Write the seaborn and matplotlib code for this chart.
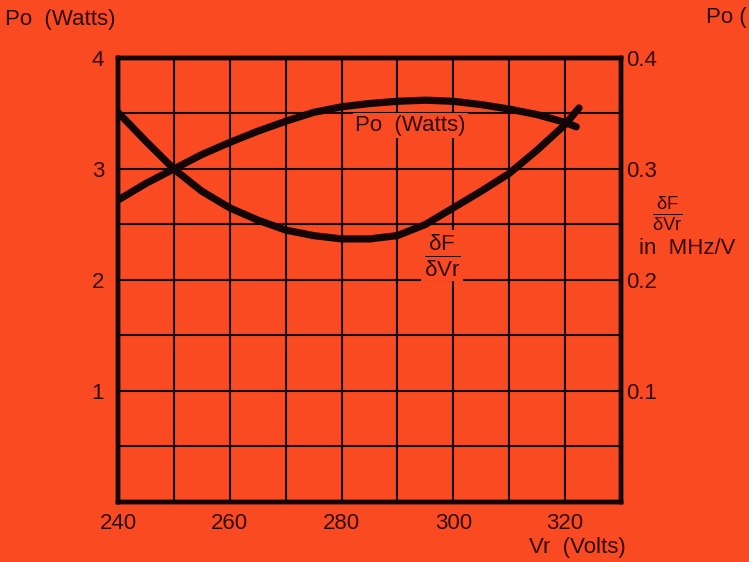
import numpy as np
import pandas as pd
import matplotlib
matplotlib.use("Agg")
import matplotlib.pyplot as plt
import seaborn as sns

# values
vr_po = [240, 245, 250, 255, 260, 265, 270, 275, 280, 285, 290, 295, 300, 305, 310, 315, 320, 322]
po_watts = [2.72, 2.87, 3.00, 3.13, 3.24, 3.34, 3.43, 3.51, 3.56, 3.59, 3.61, 3.62, 3.61, 3.58, 3.54, 3.49, 3.42, 3.38]

vr_df = [240, 245, 250, 255, 260, 265, 270, 275, 280, 285, 290, 295, 300, 305, 310, 315, 320, 322.5]
df_dvr = [0.351, 0.325, 0.300, 0.280, 0.265, 0.254, 0.245, 0.240, 0.237, 0.237, 0.240, 0.250, 0.265, 0.280, 0.296, 0.317, 0.340, 0.355]

x_ticks = [240, 260, 280, 300, 320]
left_ticks = [1, 2, 3, 4]
right_ticks = [0.1, 0.2, 0.3, 0.4]

bg = "#FA4A22"
ink = "#140606"
txt = "#2E0A0A"

sns.set_theme(style="white")
plt.rcParams["font.family"] = ["Liberation Sans", "DejaVu Sans"]
plt.rcParams["mathtext.fontset"] = "custom"
plt.rcParams["mathtext.rm"] = "Liberation Sans"
plt.rcParams["mathtext.it"] = "Liberation Sans"

fs = 16

fig = plt.figure(figsize=(7.49, 5.62), dpi=100, facecolor=bg)
ax = fig.add_axes([0.1575, 0.1068, 0.6715, 0.79])
ax.set_facecolor(bg)

po = pd.DataFrame({"vr": vr_po, "po": po_watts})
dfd = pd.DataFrame({"vr": vr_df, "df": df_dvr})

sns.lineplot(data=po, x="vr", y="po", ax=ax, color=ink, linewidth=5.2, solid_capstyle="round")

ax.set_xlim(240, 330)
ax.set_ylim(0, 4)
ax.set_xticks(np.arange(240, 331, 10), minor=True)
ax.set_yticks(np.arange(0, 4.01, 0.5), minor=True)
ax.set_xticks(x_ticks)
ax.set_yticks(left_ticks)
ax.set_xticklabels([str(t) for t in x_ticks])
ax.set_yticklabels([str(t) for t in left_ticks])
ax.grid(which="both", color=ink, linewidth=1.5)
ax.set_axisbelow(True)
ax.tick_params(axis="both", which="both", length=0, labelsize=fs, labelcolor=txt)
ax.tick_params(axis="x", pad=8)
ax.tick_params(axis="y", pad=10)
for s in ax.spines.values():
    s.set_color(ink)
    s.set_linewidth(3.2)
ax.set_xlabel("")
ax.set_ylabel("")

ax2 = ax.twinx()
sns.lineplot(data=dfd, x="vr", y="df", ax=ax2, color=ink, linewidth=5.2, solid_capstyle="round")
ax2.set_ylim(0, 0.4)
ax2.set_yticks(right_ticks)
ax2.set_yticklabels([f"{t:.1f}" for t in right_ticks])
ax2.tick_params(axis="y", length=0, labelsize=fs, labelcolor=txt, pad=4)
ax2.set_ylabel("")
ax2.grid(False)
for s in ax2.spines.values():
    s.set_color(ink)
    s.set_linewidth(3.2)

# curve labels inside the plot (grid lines gap behind them)
box = dict(facecolor=bg, edgecolor="none", pad=1.5)
ax.text(282.5, 3.39, "Po  (Watts)", fontsize=fs, color=txt, va="center", ha="left", bbox=box, zorder=1)
ax.text(298.0, 2.22, r"$\frac{\delta F}{\delta Vr}$", fontsize=23, color=txt, va="center", ha="center",
        bbox=box, zorder=1)

# outside labels
fig.text(0.007, 0.965, "Po  (Watts)", fontsize=fs, color=txt, va="center", ha="left")
fig.text(0.942, 0.968, "Po (", fontsize=fs, color=txt, va="center", ha="left")
fig.text(0.891, 0.62, r"$\frac{\delta F}{\delta Vr}$", fontsize=19, color=txt, va="center", ha="center")
fig.text(0.853, 0.558, "in  MHz/V", fontsize=fs, color=txt, va="center", ha="left")
fig.text(0.836, 0.025, "Vr  (Volts)", fontsize=fs, color=txt, va="center", ha="right")

fig.savefig("out.png", dpi=100, facecolor=bg)
